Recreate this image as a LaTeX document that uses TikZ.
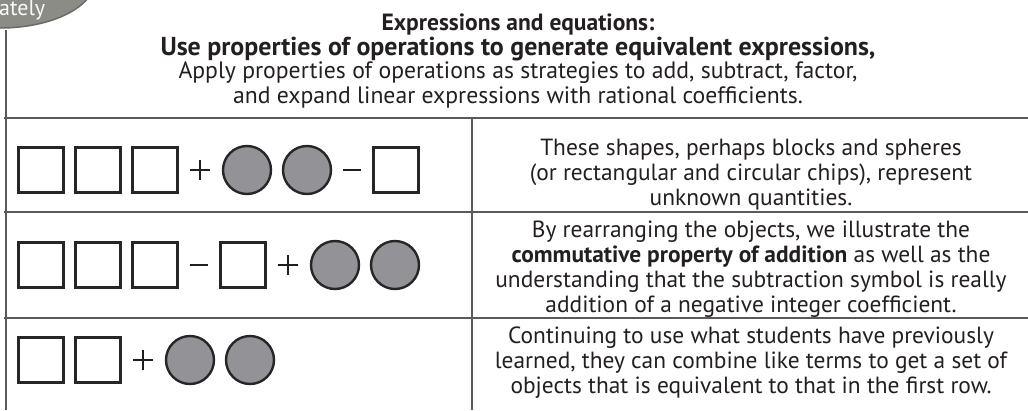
\documentclass[tikz,border=0pt]{standalone}
\usepackage{fontspec}
\setmainfont{PT Sans}
\definecolor{ink}{HTML}{231F20}
\definecolor{rulegray}{HTML}{5A5A5A}
\definecolor{chipline}{HTML}{262626}
\definecolor{ballgray}{HTML}{939296}
\definecolor{ovalfill}{HTML}{8C8C87}
\definecolor{ovalline}{HTML}{6A6A66}
\begin{document}
\begin{tikzpicture}[x=1pt,y=-1pt,
  rule/.style={draw=rulegray, line width=1.4pt},
  block/.style={rectangle, draw=chipline, line width=2.4pt, fill=white, minimum size=45pt, inner sep=0pt},
  ball/.style={circle, draw=chipline, line width=2.4pt, fill=ballgray, minimum size=48pt, inner sep=0pt},
  sign/.style={draw=ink, line width=1.7pt},
  head/.style={anchor=base, text=ink, font=\fontsize{23.5}{25}\selectfont\bfseries, inner sep=0pt},
  headwide/.style={anchor=base, text=ink, font=\fontsize{25.9}{25}\selectfont\bfseries, inner sep=0pt},
  sub/.style={anchor=base, text=ink, font=\fontsize{23.7}{25}\selectfont, inner sep=0pt},
  note/.style={anchor=base, text=ink, font=\fontsize{23.4}{25}\selectfont, inner sep=0pt}]
\useasboundingbox (0,0) rectangle (1028,410);

% tab at the upper left corner
\begin{scope}
  \clip (0,0) rectangle (1028,410);
  \draw[draw=ovalline, fill=ovalfill, line width=1.5pt] (0,-20) ellipse [x radius=95, y radius=48];
  \node[anchor=base west, inner sep=0pt, text=white!95!gray, font=\fontsize{22}{25}\selectfont] (tab) at (-1,15) {ately};
\end{scope}

% table rules
\draw[rule] (6,30) -- (6,410);
\draw[rule] (4,118) -- (1028,118);
\draw[rule] (4,212) -- (1028,212);
\draw[rule] (4,318) -- (1028,318);
\draw[rule] (472,118) -- (472,410);

% heading
\node[head]     (h1) at (518,30) {Expressions and equations:};
\node[headwide] (h2) at (518,55) {Use properties of operations to generate equivalent expressions,};
\node[sub]      (h3) at (518,78) {Apply properties of operations as strategies to add, subtract, factor,};
\node[sub]      (h4) at (518,103) {and expand linear expressions with rational coefficients.};

% row 1: three blocks + two spheres - one block
\node[block] (a1) at (41,170) {};
\node[block] (a2) at (98,170) {};
\node[block] (a3) at (155,170) {};
\coordinate (ap) at (200,170);
\draw[sign] ([xshift=-10pt]ap) -- ([xshift=10pt]ap) ([yshift=-10pt]ap) -- ([yshift=10pt]ap);
\node[ball] (a4) at (247,170) {};
\node[ball] (a5) at (307,170) {};
\coordinate (am) at (352,170);
\draw[sign] ([xshift=-9pt]am) -- ([xshift=9pt]am);
\node[block] (a6) at (396,170) {};

% row 2: three blocks - one block + two spheres
\node[block] (b1) at (41,265) {};
\node[block] (b2) at (98,265) {};
\node[block] (b3) at (155,265) {};
\coordinate (bm) at (199,265);
\draw[sign] ([xshift=-9pt]bm) -- ([xshift=9pt]bm);
\node[block] (b4) at (243,265) {};
\coordinate (bp) at (288,265);
\draw[sign] ([xshift=-10pt]bp) -- ([xshift=10pt]bp) ([yshift=-10pt]bp) -- ([yshift=10pt]bp);
\node[ball] (b5) at (335,265) {};
\node[ball] (b6) at (395,265) {};

% row 3: two blocks + two spheres
\node[block] (c1) at (41,360) {};
\node[block] (c2) at (98,360) {};
\coordinate (cp) at (143,360);
\draw[sign] ([xshift=-10pt]cp) -- ([xshift=10pt]cp) ([yshift=-10pt]cp) -- ([yshift=10pt]cp);
\node[ball] (c3) at (190,360) {};
\node[ball] (c4) at (250,360) {};

% explanations
\node[note] (n11) at (751,155) {These shapes, perhaps blocks and spheres};
\node[note] (n12) at (751,180) {(or rectangular and circular chips), represent};
\node[note] (n13) at (751,205) {unknown quantities.};

\node[note] (n21) at (751,237) {By rearranging the objects, we illustrate the};
\node[note] (n22) at (751,262) {\textbf{commutative property of addition} as well as the};
\node[note] (n23) at (751,287) {understanding that the subtraction symbol is really};
\node[note] (n24) at (751,312) {addition of a negative integer coefficient.};

\node[note] (n31) at (751,343) {Continuing to use what students have previously};
\node[note] (n32) at (751,368) {learned, they can combine like terms to get a set of};
\node[note] (n33) at (751,393) {objects that is equivalent to that in the first row.};
\end{tikzpicture}
\end{document}
